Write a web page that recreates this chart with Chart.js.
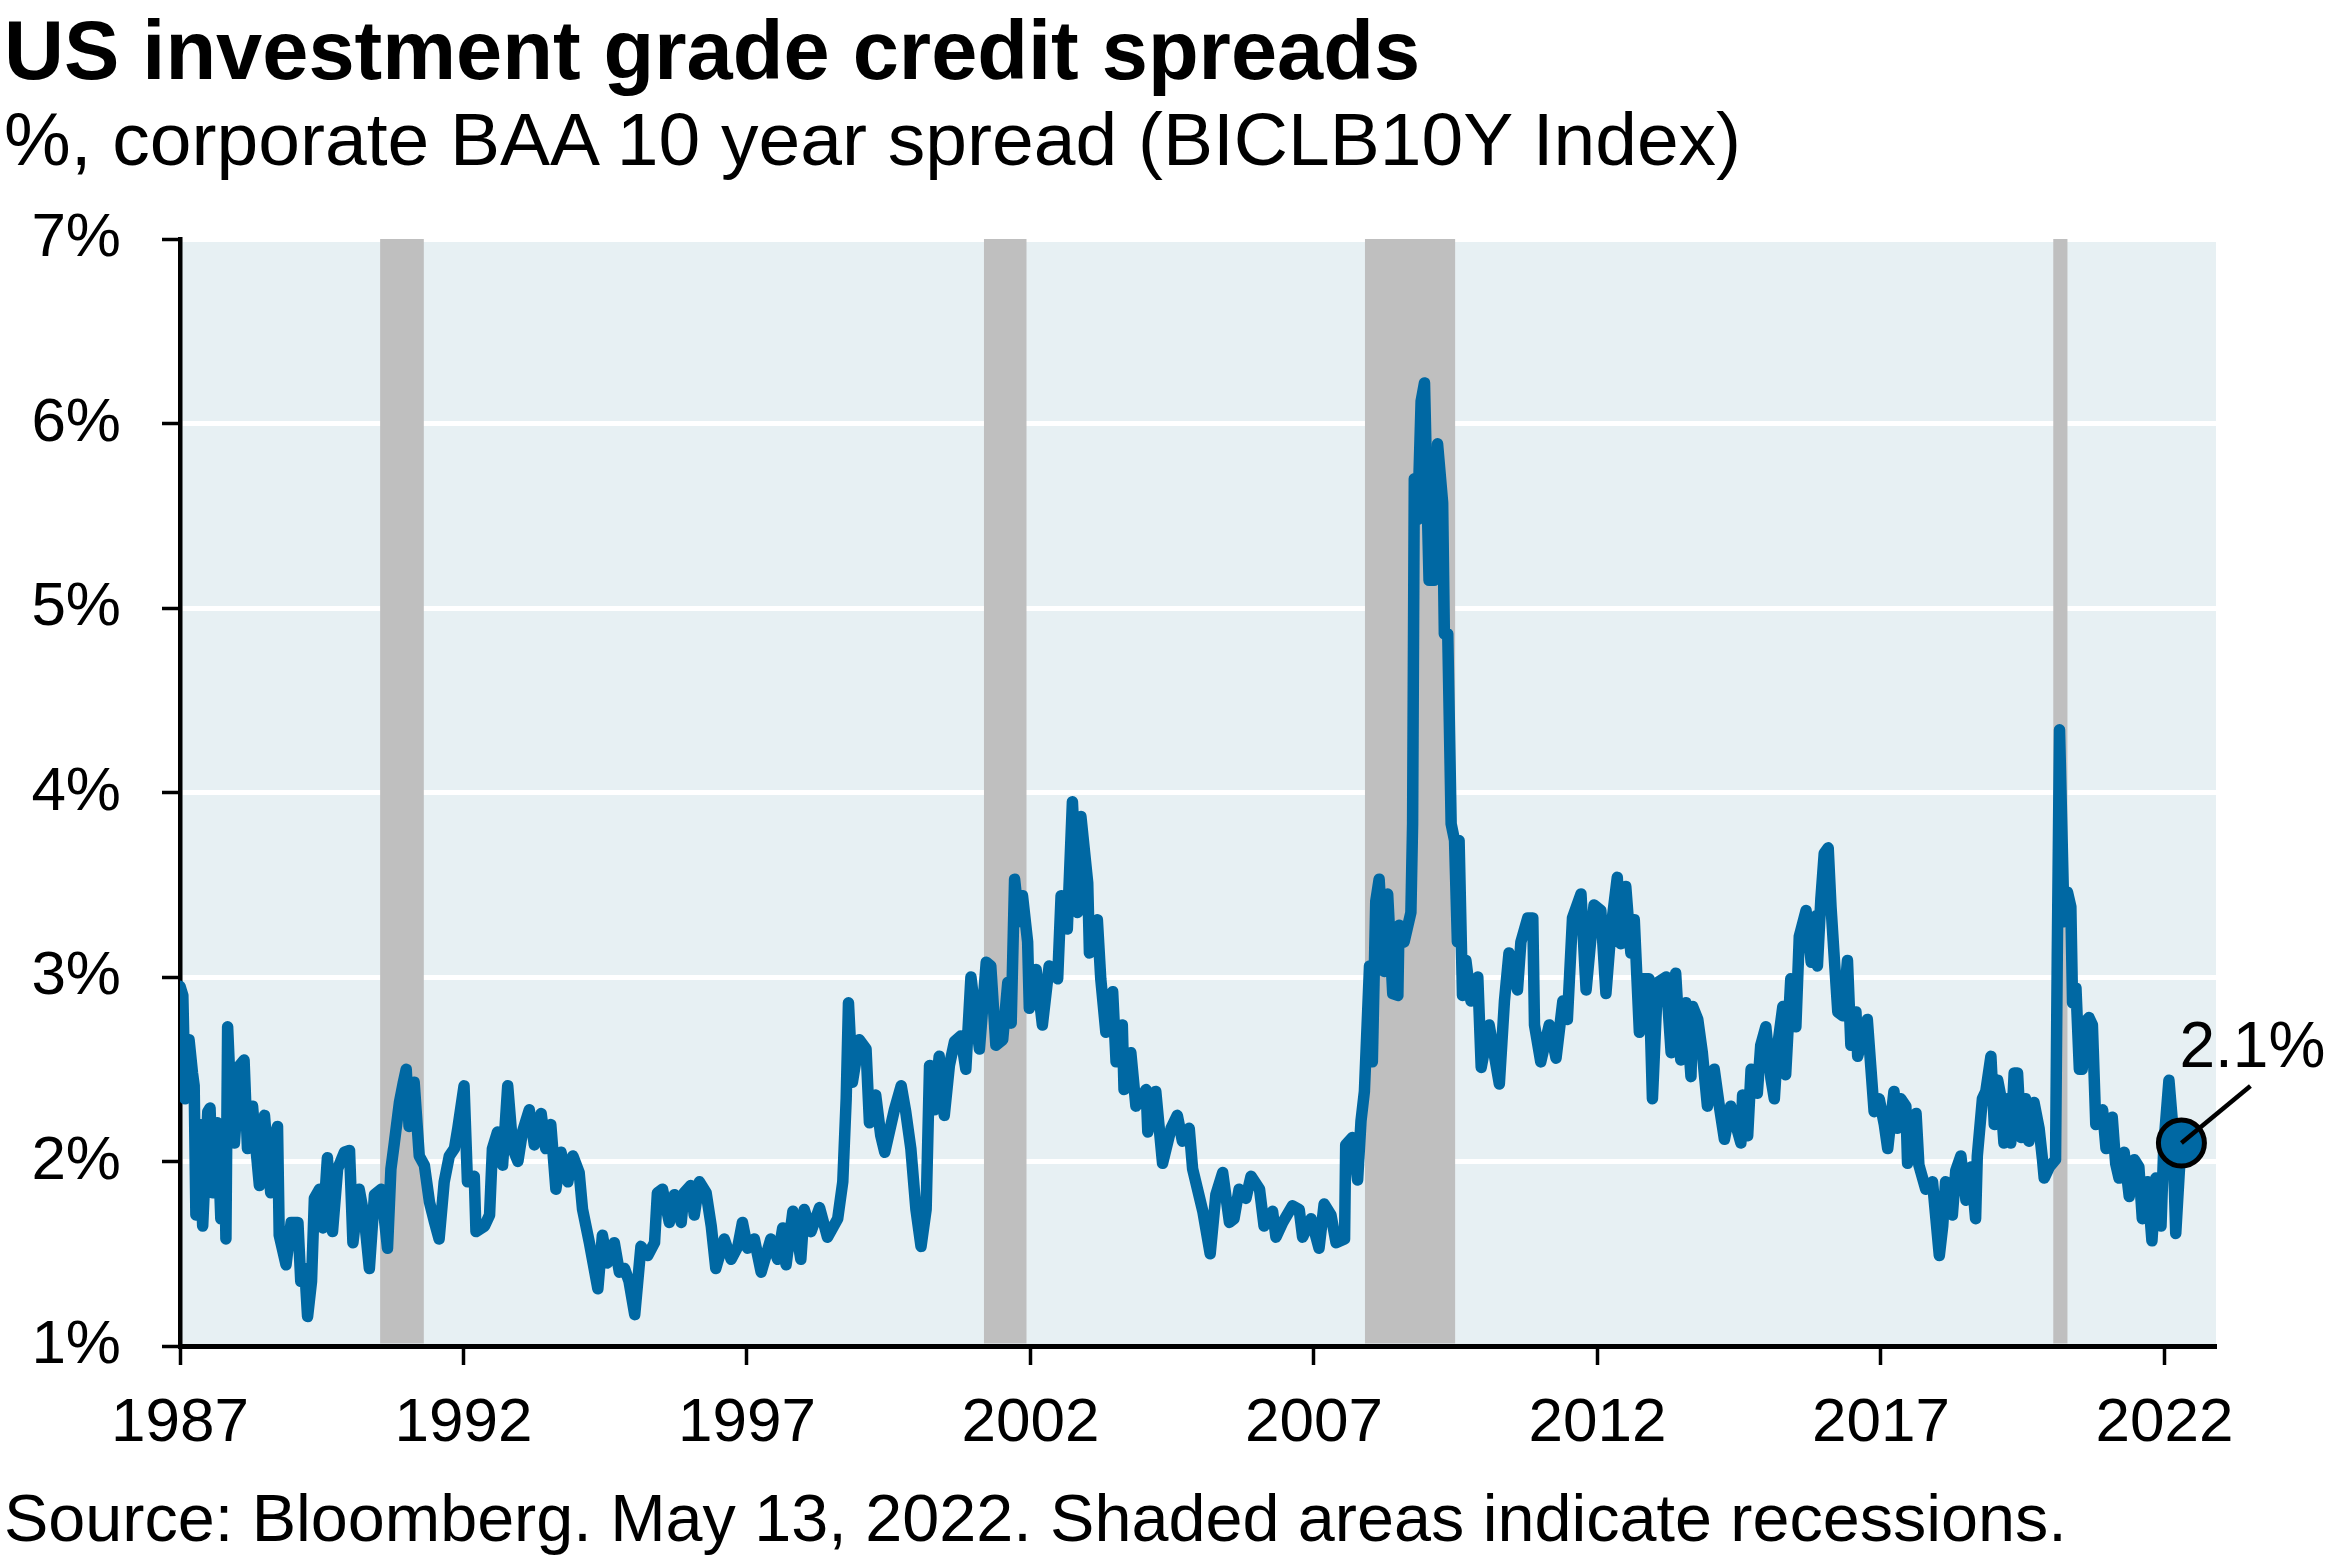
<!DOCTYPE html>
<html>
<head>
<meta charset="utf-8">
<script src="https://cdn.jsdelivr.net/npm/chart.js@4.4.1/dist/chart.umd.min.js"></script>
<style>
html,body{margin:0;padding:0;background:#fff;}
#wrap{position:relative;width:2340px;height:1560px;overflow:hidden;font-family:"Liberation Sans",Arial,sans-serif;color:#000;}
#c{position:absolute;left:0;top:0;}
.t{position:absolute;left:4px;white-space:nowrap;line-height:1;}
</style>
</head>
<body>
<div id="wrap">
<canvas id="c" width="2340" height="1560"></canvas>
<div class="t" style="top:9px;font-size:83px;font-weight:bold;">US investment grade credit spreads</div>
<div class="t" style="top:102px;font-size:75px;">%, corporate BAA 10 year spread (BICLB10Y Index)</div>
<div class="t" style="top:1485px;font-size:66.5px;">Source: Bloomberg. May 13, 2022. Shaded areas indicate recessions.</div>
</div>
<script>
// ---- data ----
const years = [
1987.00,1987.05,1987.09,1987.16,1987.22,1987.25,1987.28,1987.34,1987.40,1987.49,1987.53,1987.58,1987.66,1987.72,1987.78,1987.81,1987.84,1987.90,1987.96,
1988.05,1988.13,1988.19,1988.28,1988.34,1988.40,1988.49,1988.60,1988.68,1988.72,1988.75,1988.87,1988.96,
1989.08,1989.13,1989.20,1989.25,1989.32,1989.37,1989.46,1989.52,1989.60,1989.69,1989.78,1989.90,1989.99,
1990.05,1990.16,1990.25,1990.34,1990.43,1990.55,1990.66,1990.72,1990.78,1990.87,1990.94,1990.99,
1991.04,1991.13,1991.22,1991.31,1991.40,1991.49,1991.57,1991.66,1991.75,1991.84,1991.90,1992.01,
1992.07,1992.19,1992.22,1992.37,1992.46,1992.51,1992.60,1992.69,1992.78,1992.87,1992.96,
1993.04,1993.16,1993.25,1993.37,1993.45,1993.54,1993.63,1993.72,1993.84,1993.93,
1994.04,1994.10,1994.22,1994.37,1994.45,1994.54,1994.66,1994.75,1994.84,1994.92,
1995.02,1995.13,1995.25,1995.37,1995.42,1995.51,1995.63,1995.72,1995.84,1995.89,
1996.01,1996.07,1996.16,1996.28,1996.37,1996.45,1996.60,1996.72,1996.84,1996.92,
1997.01,1997.13,1997.25,1997.42,1997.54,1997.63,1997.69,1997.81,1997.95,
1998.01,1998.13,1998.28,1998.42,1998.60,1998.69,1998.75,1998.79,1998.86,1998.98,
1999.10,1999.16,1999.27,1999.36,1999.43,1999.60,1999.72,1999.80,1999.89,1999.98,
2000.07,2000.16,2000.22,2000.30,2000.39,2000.48,2000.57,2000.66,2000.77,2000.86,2000.95,
2001.10,2001.22,2001.30,2001.39,2001.51,2001.60,2001.66,2001.72,2001.80,2001.86,2001.95,
2001.98,2002.10,2002.21,2002.33,2002.48,2002.54,2002.65,2002.74,2002.83,2002.89,
2003.01,2003.04,2003.18,2003.24,2003.33,2003.45,2003.51,2003.62,2003.65,2003.77,2003.86,
2004.04,2004.07,2004.21,2004.33,2004.48,2004.59,2004.68,2004.80,2004.86,
2005.04,2005.17,2005.27,2005.39,2005.51,2005.59,2005.68,2005.80,2005.89,
2006.04,2006.12,2006.27,2006.33,2006.45,2006.62,2006.74,2006.80,2006.95,
2007.09,2007.18,2007.30,2007.39,2007.54,2007.56,2007.68,2007.77,2007.83,2007.89,2007.98,
2008.03,2008.09,2008.15,2008.24,2008.30,2008.39,2008.48,2008.50,2008.59,2008.71,2008.74,2008.77,2008.83,2008.89,2008.95,
2009.00,2009.03,2009.12,2009.18,2009.27,2009.30,2009.36,2009.42,2009.48,2009.53,2009.56,2009.62,2009.68,2009.77,2009.89,2009.95,
2010.09,2010.27,2010.36,2010.44,2010.59,2010.65,2010.77,2010.86,2010.89,
2011.00,2011.15,2011.27,2011.39,2011.47,2011.56,2011.71,2011.80,2011.94,
2012.06,2012.15,2012.24,2012.35,2012.41,2012.50,2012.59,2012.65,2012.74,2012.77,2012.91,2012.97,
2013.06,2013.21,2013.30,2013.38,2013.47,2013.56,2013.65,2013.68,2013.77,2013.85,2013.94,
2014.06,2014.15,2014.24,2014.35,2014.53,2014.56,2014.65,2014.71,2014.82,2014.88,2014.97,
2015.06,2015.12,2015.18,2015.27,2015.32,2015.41,2015.50,2015.56,2015.68,2015.77,2015.85,2015.88,2015.94,
2016.00,2016.07,2016.12,2016.18,2016.24,2016.33,2016.41,2016.47,2016.56,2016.59,2016.76,2016.82,2016.88,2016.97,
2017.06,2017.12,2017.23,2017.29,2017.35,2017.44,2017.47,2017.62,2017.67,2017.79,2017.91,2017.97,
2018.03,2018.09,2018.14,2018.26,2018.32,2018.41,2018.50,2018.59,2018.67,2018.70,2018.79,2018.85,2018.94,
2019.00,2019.06,2019.11,2019.17,2019.23,2019.29,2019.35,2019.41,2019.47,2019.55,2019.61,2019.70,2019.79,2019.85,2019.88,2019.97,
2020.08,2020.11,2020.15,2020.23,2020.29,2020.35,2020.38,2020.44,2020.50,2020.55,2020.61,2020.67,2020.73,2020.79,2020.91,2020.97,
2021.08,2021.14,2021.20,2021.29,2021.38,2021.47,2021.55,2021.61,2021.70,2021.78,2021.85,2021.94,2021.99,
2022.08,2022.14,2022.20,2022.26,2022.30
];
const spreads = [
2.95,2.90,2.34,2.66,2.48,2.41,1.71,2.20,1.65,2.27,2.29,1.83,2.21,1.69,2.15,1.58,2.73,2.30,2.10,
2.52,2.55,2.07,2.30,2.07,1.87,2.25,1.83,2.15,2.19,1.60,1.44,1.67,
1.67,1.35,1.42,1.16,1.35,1.80,1.85,1.64,2.02,1.62,1.96,2.05,2.06,
1.56,1.85,1.70,1.42,1.82,1.85,1.53,1.96,2.10,2.32,2.43,2.50,
2.19,2.43,2.03,1.98,1.78,1.67,1.58,1.89,2.03,2.07,2.18,2.41,
1.89,1.92,1.62,1.65,1.71,2.07,2.16,1.98,2.41,2.07,2.00,
2.16,2.28,2.09,2.26,2.07,2.20,1.85,2.05,1.89,2.03,
1.94,1.74,1.56,1.31,1.60,1.45,1.56,1.40,1.42,1.35,
1.17,1.54,1.49,1.56,1.83,1.85,1.67,1.82,1.67,1.83,
1.87,1.71,1.89,1.83,1.65,1.42,1.58,1.47,1.54,1.67,
1.53,1.58,1.40,1.58,1.47,1.64,1.44,1.73,1.47,
1.74,1.62,1.75,1.59,1.69,1.89,2.34,2.86,2.43,2.66,
2.61,2.21,2.36,2.14,2.05,2.28,2.41,2.27,2.07,1.74,
1.54,1.74,2.52,2.28,2.57,2.25,2.52,2.65,2.68,2.50,3.00,
2.61,3.08,3.06,2.63,2.66,2.97,2.75,3.53,3.30,3.44,3.19,
2.83,3.04,2.74,3.06,2.99,3.44,3.26,3.95,3.35,3.87,
3.51,3.13,3.31,2.99,2.70,2.92,2.54,2.74,2.39,2.59,2.30,
2.39,2.16,2.38,1.99,2.18,2.25,2.11,2.18,1.96,
1.73,1.50,1.82,1.94,1.67,1.69,1.85,1.80,1.92,
1.85,1.65,1.73,1.59,1.67,1.76,1.74,1.59,1.69,
1.53,1.77,1.71,1.56,1.58,2.09,2.13,1.90,2.22,2.38,3.06,
2.54,3.41,3.53,3.03,3.45,2.91,2.90,3.28,3.19,3.35,3.83,5.70,5.48,6.12,6.22,
5.54,5.15,5.15,5.89,5.57,4.86,4.86,3.83,3.74,3.19,3.74,2.90,3.09,2.87,3.00,2.51,
2.74,2.42,2.87,3.13,2.93,3.19,3.32,3.32,2.74,
2.54,2.74,2.56,2.87,2.77,3.32,3.45,2.93,3.39,
3.36,2.91,3.26,3.54,3.18,3.49,3.13,3.31,2.70,2.99,2.99,2.34,
2.97,3.00,2.59,3.02,2.55,2.86,2.46,2.84,2.77,2.59,2.30,
2.50,2.30,2.12,2.30,2.10,2.36,2.14,2.50,2.37,2.63,2.73,
2.45,2.34,2.63,2.84,2.47,2.99,2.73,3.22,3.36,3.08,3.33,3.06,3.42,
3.67,3.70,3.38,3.09,2.81,2.79,3.09,2.63,2.81,2.57,2.77,2.52,2.27,2.34,
2.20,2.07,2.38,2.18,2.34,2.30,1.99,2.26,1.98,1.85,1.89,1.69,
1.49,1.65,1.89,1.71,1.95,2.03,1.79,1.97,1.69,2.03,2.34,2.38,2.57,
2.20,2.44,2.36,2.10,2.34,2.10,2.48,2.48,2.13,2.34,2.11,2.32,2.18,2.01,1.91,1.97,
2.01,3.10,4.34,3.30,3.46,3.38,2.86,2.94,2.50,2.50,2.76,2.78,2.74,2.20,2.28,2.07,
2.24,1.99,1.91,2.05,1.81,2.01,1.97,1.69,1.89,1.57,1.91,1.65,2.09,
2.44,2.22,1.61,1.93,2.12
];
const xTicks = [1987, 1992, 1997, 2002, 2007, 2012, 2017, 2022];
const yTicks = [1, 2, 3, 4, 5, 6, 7];
const recessionStarts = [1990.53, 2001.18, 2007.90, 2020.04];
const recessionEnds   = [1991.30, 2001.93, 2009.49, 2020.29];
const latestValue = 2.1;
const latestLabel = '2.1%';

// ---- styles ----
const FONT = '"Liberation Sans", Arial, sans-serif';
const LINE_COLOR = '#0068A3';
Chart.defaults.font.family = FONT;
Chart.defaults.color = '#000';

const decor = {
  id: 'decor',
  beforeDraw(chart) {
    const { ctx, chartArea: a } = chart;
    ctx.save();
    ctx.fillStyle = '#E7F0F3';
    ctx.fillRect(a.left, a.top, a.right - a.left, a.bottom - a.top);
    ctx.restore();
  },
  beforeDatasetsDraw(chart) {
    const { ctx, chartArea: a, scales: { x } } = chart;
    ctx.save();
    ctx.fillStyle = '#BFBFBF';
    recessionStarts.forEach((s, i) => {
      const x0 = x.getPixelForValue(s);
      const x1 = x.getPixelForValue(recessionEnds[i]);
      ctx.fillRect(x0, a.top, x1 - x0, a.bottom - a.top - 2.5);
    });
    ctx.restore();
  },
  afterDatasetsDraw(chart) {
    const { ctx, scales: { x, y } } = chart;
    const px = x.getPixelForValue(years[years.length - 1]);
    const py = y.getPixelForValue(latestValue);
    ctx.save();
    ctx.beginPath();
    ctx.arc(px, py, 23, 0, Math.PI * 2);
    ctx.fillStyle = LINE_COLOR;
    ctx.fill();
    ctx.lineWidth = 5;
    ctx.strokeStyle = '#000';
    ctx.stroke();
    ctx.beginPath();
    ctx.moveTo(px, py);
    ctx.lineTo(px + 69, py - 57);
    ctx.lineWidth = 4.5;
    ctx.stroke();
    ctx.font = '64px ' + FONT;
    ctx.fillStyle = '#000';
    ctx.textAlign = 'left';
    ctx.textBaseline = 'alphabetic';
    ctx.fillText(latestLabel, px - 2, py - 76);
    ctx.restore();
  }
};

new Chart(document.getElementById('c'), {
  type: 'line',
  data: {
    datasets: [{
      data: years.map((yr, i) => ({ x: yr, y: spreads[i] })),
      borderColor: LINE_COLOR,
      borderWidth: 11.5,
      borderJoinStyle: 'round',
      borderCapStyle: 'round',
      pointRadius: 0,
      tension: 0,
      fill: false
    }]
  },
  options: {
    responsive: false,
    animation: false,
    devicePixelRatio: 1,
    layout: { padding: { top: 239, right: 124, bottom: 84, left: 0 } },
    plugins: { legend: { display: false }, tooltip: { enabled: false }, title: { display: false } },
    scales: {
      x: {
        type: 'linear',
        min: 1987,
        max: 2022.91,
        afterBuildTicks: s => { s.ticks = xTicks.map(v => ({ value: v })); },
        afterFit: s => { s.height = 130; },
        ticks: { callback: v => String(v), font: { size: 62 }, color: '#000', padding: 22, maxRotation: 0, autoSkip: false },
        grid: { drawOnChartArea: false, drawTicks: true, tickLength: 19, tickColor: '#000', tickWidth: 3.5 },
        border: { display: true, color: '#000', width: 5 }
      },
      y: {
        min: 1,
        max: 7,
        afterBuildTicks: s => { s.ticks = yTicks.map(v => ({ value: v })); },
        afterFit: s => { s.width = 180; },
        ticks: { callback: v => v + '%', font: { size: 62 }, color: '#000', padding: 41 },
        grid: {
          color: c => (c.tick && c.tick.value === 1) ? 'rgba(0,0,0,0)' : '#FFFFFF',
          lineWidth: 5,
          drawTicks: true,
          tickLength: 18,
          tickColor: '#000',
          tickWidth: 3.5
        },
        border: { display: true, color: '#000', width: 4.5 }
      }
    }
  },
  plugins: [decor]
});
</script>
</body>
</html>
